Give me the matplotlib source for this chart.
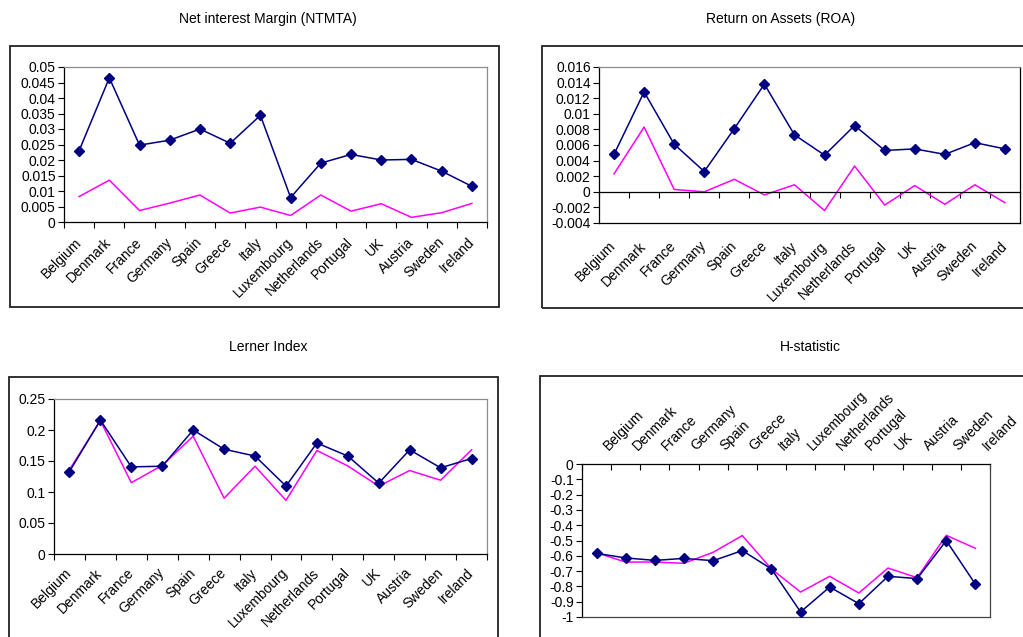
import matplotlib
matplotlib.use("Agg")
import matplotlib.pyplot as plt
from matplotlib.patches import Rectangle
from matplotlib.ticker import FixedLocator, FuncFormatter
from matplotlib.transforms import ScaledTranslation, blended_transform_factory
import numpy as np

plt.rcParams["font.family"] = ["Liberation Sans", "DejaVu Sans"]
plt.rcParams["axes.unicode_minus"] = False

countries = ["Belgium", "Denmark", "France", "Germany", "Spain", "Greece", "Italy",
             "Luxembourg", "Netherlands", "Portugal", "UK", "Austria", "Sweden", "Ireland"]

ntmta_bank = [0.0230, 0.0465, 0.0248, 0.0264, 0.0300, 0.0254, 0.0344,
              0.0079, 0.0190, 0.0218, 0.0200, 0.0202, 0.0164, 0.0115]
ntmta_other = [0.0082, 0.0135, 0.0037, 0.0061, 0.0087, 0.0029, 0.0048,
               0.0021, 0.0087, 0.0035, 0.0059, 0.0015, 0.0030, 0.0060]

roa_bank = [0.0048, 0.0128, 0.0061, 0.0026, 0.0081, 0.0138, 0.0073,
            0.0047, 0.0085, 0.0053, 0.0055, 0.0048, 0.0063, 0.0055]
roa_other = [0.0023, 0.0083, 0.0003, 0.0000, 0.0016, -0.0004, 0.0009,
             -0.0024, 0.0033, -0.0017, 0.0008, -0.0016, 0.0009, -0.0014]

lerner_bank = [0.133, 0.216, 0.1405, 0.1416, 0.200, 0.169, 0.158,
               0.1095, 0.179, 0.158, 0.1143, 0.168, 0.139, 0.154]
lerner_other = [0.136, 0.215, 0.115, 0.143, 0.190, 0.090, 0.1416,
                0.0865, 0.167, 0.142, 0.1095, 0.1346, 0.119, 0.168]

h_bank = [-0.584, -0.614, -0.630, -0.617, -0.632, -0.566, -0.686,
          -0.967, -0.804, -0.913, -0.734, -0.749, -0.501, -0.786]
h_other = [-0.580, -0.641, -0.641, -0.649, -0.577, -0.468, -0.686,
           -0.837, -0.734, -0.843, -0.680, -0.743, -0.466, -0.551]

titles = ["Net interest Margin (NTMTA)", "Return on Assets (ROA)", "Lerner Index", "H-statistic"]

W, H = 1023, 637
fig = plt.figure(figsize=(W / 100, H / 100), dpi=100)
fig.patch.set_facecolor("white")

NAVY = "#000080"
PINK = "#FF00FF"
TICK_FS = 10
TITLE_FS = 10


def rect(l, t, r, b):
    return [l / W, 1 - b / H, (r - l) / W, (b - t) / H]


def frame(l, t, r, b):
    fig.patches.append(Rectangle((l / W, 1 - b / H), (r - l) / W, (b - t) / H,
                                 transform=fig.transFigure, fill=False,
                                 edgecolor="#222222", linewidth=1.3))


def fmt(v, _pos=None):
    v = round(v, 6)
    if v == 0:
        return "0"
    return "%g" % v


def draw_series(ax, a, b):
    x = np.arange(len(countries))
    ax.plot(x, b, color=PINK, linewidth=1.1, zorder=2)
    ax.plot(x, a, color=NAVY, linewidth=1.1, marker="D", markersize=5.5,
            markerfacecolor=NAVY, markeredgecolor=NAVY, zorder=3)
    ax.set_xlim(-0.5, len(countries) - 0.5)
    ax.xaxis.set_minor_locator(FixedLocator(np.arange(len(countries) + 1) - 0.5))
    ax.yaxis.set_major_formatter(FuncFormatter(fmt))
    ax.tick_params(axis="y", direction="out", length=4, width=0.8,
                   labelsize=TICK_FS, pad=2)
    for s in ax.spines.values():
        s.set_linewidth(0.9)


def rotate_labels(labels, ha):
    for lab in labels:
        lab.set_rotation(45)
        lab.set_ha(ha)
        lab.set_va("center")
        lab.set_rotation_mode("anchor")


def bottom_labels(ax, pad=13):
    x = np.arange(len(countries))
    ax.set_xticks(x)
    ax.set_xticklabels(countries, fontsize=TICK_FS)
    ax.tick_params(axis="x", which="major", length=0, pad=pad)
    ax.tick_params(axis="x", which="minor", direction="out", length=4, width=0.8)
    rotate_labels(ax.get_xticklabels(), "right")


# Net interest margin
frame(10, 46, 499, 307)
fig.text(268 / W, 1 - 19 / H, titles[0], ha="center", va="center", fontsize=TITLE_FS)
ax1 = fig.add_axes(rect(64, 67, 487, 222))
draw_series(ax1, ntmta_bank, ntmta_other)
ax1.set_ylim(0, 0.05)
ax1.set_yticks(np.linspace(0, 0.05, 11))
bottom_labels(ax1)
ax1.spines["top"].set_color("#8c8c8c")
ax1.spines["right"].set_color("#8c8c8c")

# Return on assets
frame(542, 46, 1030, 308)
fig.text(781 / W, 1 - 19 / H, titles[1], ha="center", va="center", fontsize=TITLE_FS)
ax2 = fig.add_axes(rect(599, 67, 1020, 223))
draw_series(ax2, roa_bank, roa_other)
ax2.set_ylim(-0.004, 0.016)
ax2.set_yticks(np.linspace(-0.004, 0.016, 11))
ax2.spines["bottom"].set_position(("data", 0))
ax2.spines["top"].set_color("#8c8c8c")
ax2.set_xticks([])
ax2.tick_params(axis="x", which="minor", direction="out", length=4, width=0.8)
sec = ax2.secondary_xaxis("bottom")
sec.set_xticks(np.arange(len(countries)))
sec.set_xticklabels(countries, fontsize=TICK_FS)
sec.tick_params(axis="x", length=0, pad=15)
sec.spines["bottom"].set_linewidth(0.9)
rotate_labels(sec.get_xticklabels(), "right")

# Lerner index
frame(9, 377, 498, 660)
fig.text(268 / W, 1 - 347 / H, titles[2], ha="center", va="center", fontsize=TITLE_FS)
ax3 = fig.add_axes(rect(54, 399, 487, 554))
draw_series(ax3, lerner_bank, lerner_other)
ax3.set_ylim(0, 0.25)
ax3.set_yticks(np.linspace(0, 0.25, 6))
bottom_labels(ax3, pad=12)
ax3.spines["top"].set_color("#8c8c8c")
ax3.spines["right"].set_color("#8c8c8c")

# H-statistic: category axis runs along the top at zero
frame(540, 376, 1030, 660)
fig.text(810 / W, 1 - 347 / H, titles[3], ha="center", va="center", fontsize=TITLE_FS)
ax4 = fig.add_axes(rect(582, 464, 990, 617))
draw_series(ax4, h_bank, h_other)
ax4.set_ylim(-1, 0)
ax4.set_yticks(np.linspace(-1, 0, 11))
ax4.set_xticks([])
ax4.tick_params(axis="x", which="minor", bottom=False, top=True, direction="in",
                length=4, width=0.8)
top_tr = blended_transform_factory(ax4.transData, ax4.transAxes) + \
    ScaledTranslation(12 / 100, 13 / 100, fig.dpi_scale_trans)
for i, name in enumerate(countries):
    ax4.text(i, 1, name, transform=top_tr, rotation=45, rotation_mode="anchor",
             ha="left", va="baseline", fontsize=TICK_FS, clip_on=False)
ax4.spines["right"].set_color("#444444")
ax4.spines["bottom"].set_color("#444444")

fig.savefig("out.png", dpi=100, facecolor="white")
